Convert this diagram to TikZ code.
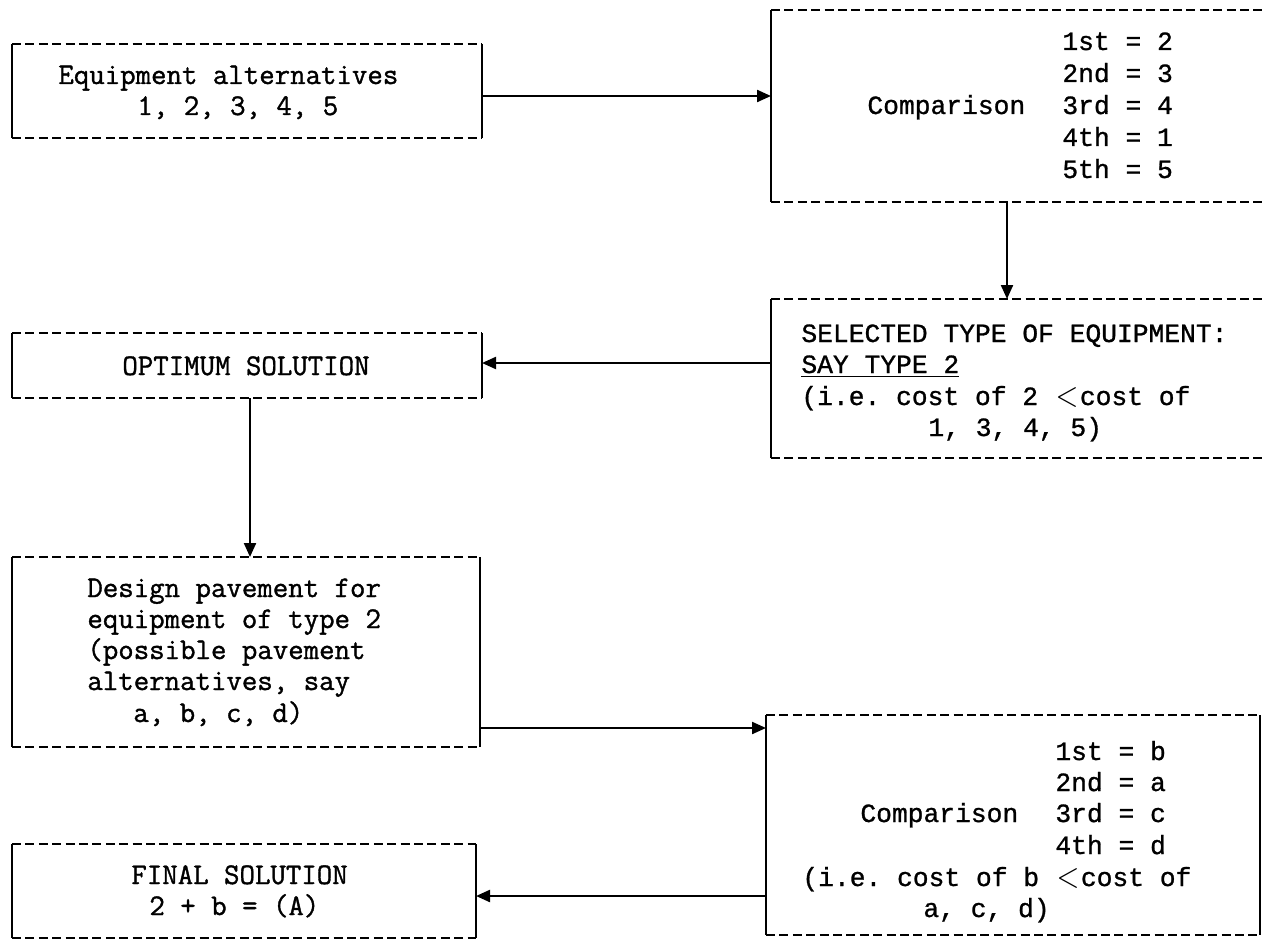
\documentclass[tikz,border=0pt]{standalone}
\usepackage{fontspec}
\newfontfamily\cour{Liberation Mono}[FakeBold=1.0]
\newfontfamily\lmt{lmmono12-regular.otf}[FakeBold=1.2]
\usetikzlibrary{arrows.meta}
\newcommand\ltsym{\makebox[13pt][c]{\raisebox{-0.5pt}{\scalebox{1.25}[1.5]{$<$}}}}
\begin{document}
\begin{tikzpicture}[x=0.5pt,y=-0.5pt,
  boxn/.style={rectangle, inner sep=0pt, outer sep=0pt},
  hside/.style={line width=1.3pt, dash pattern=on 4.5pt off 2.2pt},
  vside/.style={line width=1.2pt},
  arr/.style={line width=1.1pt, -{Triangle[length=7pt,width=6pt]}},
  txtL/.style={anchor=base west, inner sep=0pt, font=\fontsize{15}{18}\selectfont\lmt\frenchspacing},
  txtR/.style={anchor=base west, inner sep=0pt, font=\fontsize{13.15}{16}\selectfont\cour\frenchspacing}]
\useasboundingbox (0,0) rectangle (1262,941);
% boxes
\node[boxn, minimum width=235pt, minimum height=47pt] (b1) at (247,91) {};
\node[boxn, minimum width=249.5pt, minimum height=96pt] (b2) at (1020.5,106) {};
\node[boxn, minimum width=249.5pt, minimum height=79.5pt] (b3) at (1020.5,378.5) {};
\node[boxn, minimum width=235pt, minimum height=32.5pt] (b4) at (247,365.5) {};
\node[boxn, minimum width=234pt, minimum height=95pt] (b5) at (246,652) {};
\node[boxn, minimum width=247pt, minimum height=110pt] (b6) at (1013,825) {};
\node[boxn, minimum width=232pt, minimum height=47pt] (b7) at (244,891) {};
\foreach \n in {b1,b2,b3,b4,b5,b6,b7}{
  \draw[hside] (\n.north west) -- (\n.north east);
  \draw[hside] (\n.south west) -- (\n.south east);
  \draw[vside] (\n.north west) -- (\n.south west);
  \draw[vside] (\n.north east) -- (\n.south east);
}
% texts
\node[txtL] (t1a) at (58,84) {Equipment alternatives};
\node[txtL] (t1b) at (137,115) {1, 2, 3, 4, 5};
\node[txtR] (t2) at (867,114) {Comparison};
\node[txtR] (t2a) at (1062,50) {1st = 2};
\node[txtR] (t2b) at (1062,82) {2nd = 3};
\node[txtR] (t2c) at (1062,114) {3rd = 4};
\node[txtR] (t2d) at (1062,146) {4th = 1};
\node[txtR] (t2e) at (1062,178) {5th = 5};
\node[txtR] (t3a) at (801,342) {SELECTED TYPE OF EQUIPMENT:};
\node[txtR] (t3b) at (801,373) {\underline{SAY TYPE 2}};
\node[txtR] (t3c) at (801,405) {(i.e. cost of 2 \ltsym{}cost of};
\node[txtR] (t3d) at (928,436) {1, 3, 4, 5)};
\node[txtL] (t4) at (122,375) {OPTIMUM SOLUTION};
\node[txtL] (t5a) at (87,597) {Design pavement for};
\node[txtL] (t5b) at (87,628) {equipment of type 2};
\node[txtL] (t5c) at (87,659) {(possible pavement};
\node[txtL] (t5d) at (87,690) {alternatives, say};
\node[txtL] (t5e) at (133,722) {a, b, c, d)};
\node[txtR] (t6) at (860,822) {Comparison};
\node[txtR] (t6a) at (1055,760) {1st = b};
\node[txtR] (t6b) at (1055,791) {2nd = a};
\node[txtR] (t6c) at (1055,822) {3rd = c};
\node[txtR] (t6d) at (1055,854) {4th = d};
\node[txtR] (t6e) at (802,886) {(i.e. cost of b \ltsym{}cost of};
\node[txtR] (t6f) at (923,917) {a, c, d)};
\node[txtL] (t7a) at (131,884) {FINAL SOLUTION};
\node[txtL] (t7b) at (149,915) {2 + b = (A)};
% connectors
\coordinate (r1) at (0,96);
\coordinate (c2) at (1007,0);
\coordinate (r3) at (0,363);
\coordinate (c4) at (250,0);
\coordinate (r5) at (0,728);
\coordinate (r6) at (0,896);
\draw[arr] (b1.east |- r1) -- (b2.west |- r1);
\draw[arr] (b2.south -| c2) -- (b3.north -| c2);
\draw[arr] (b3.west |- r3) -- (b4.east |- r3);
\draw[arr] (b4.south -| c4) -- (b5.north -| c4);
\draw[arr] (b5.east |- r5) -- (b6.west |- r5);
\draw[arr] (b6.west |- r6) -- (b7.east |- r6);
\end{tikzpicture}
\end{document}
